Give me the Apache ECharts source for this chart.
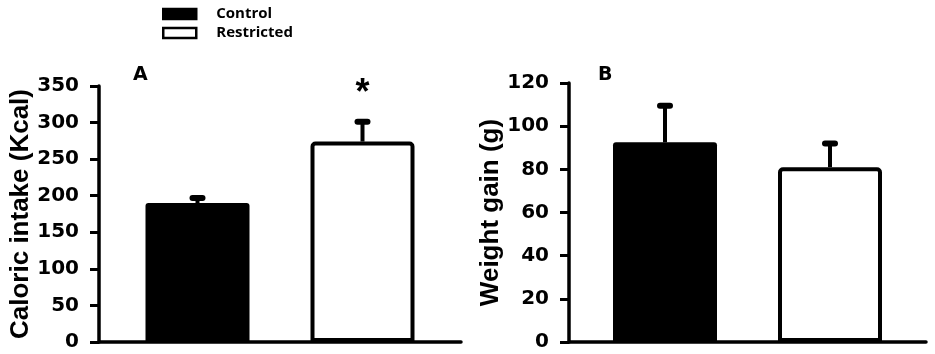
<!DOCTYPE html>
<html>
<head>
<meta charset="utf-8">
<script src="https://cdn.jsdelivr.net/npm/echarts@6/dist/echarts.min.js"></script>
<style>
html,body{margin:0;padding:0;background:#fff;}
#chart{width:935px;height:354px;}
</style>
</head>
<body>
<div id="chart"></div>
<script>
// ---- data ----
var groups = ['Control', 'Restricted'];
var caloricMean = [190, 274];
var caloricErr = [7, 27];
var caloricSig = ['', '*'];
var weightMean = [92.5, 81];
var weightErr = [17, 11];
var weightSig = ['', ''];
var panelLetters = ['A', 'B'];
var yTitles = ['Caloric intake (Kcal)', 'Weight gain (g)'];

// ---- style constants ----
var BAR_W = 104, BAR_GAP = 61;
var LINE_W = 3.5;

var chart = echarts.init(document.getElementById('chart'));

function errRenderer(means, errs, sigs) {
  return function (params, api) {
    var i = api.value(0);
    var dir = i === 0 ? -1 : 1;
    var cx = api.coord([0, 0])[0] + dir * (BAR_W + BAR_GAP) / 2;
    var y1 = api.coord([0, means[i]])[1];
    var y2 = api.coord([0, means[i] + errs[i]])[1];
    var children = [
      {type: 'line', shape: {x1: cx, y1: y1, x2: cx, y2: y2}, style: {stroke: '#000', lineWidth: 4}},
      {type: 'rect', shape: {x: cx - 8, y: y2 - 3, width: 16, height: 6, r: 3}, style: {fill: '#000'}}
    ];
    if (sigs[i]) {
      children.push({type: 'text', style: {text: sigs[i], x: cx, y: y2 - 28, align: 'center', verticalAlign: 'middle',
        font: 'bold 36px "Liberation Sans", Arial, sans-serif', fill: '#000'}});
    }
    return {type: 'group', children: children};
  };
}

function yAxis(gi, max, interval, name, gap) {
  return {
    type: 'value', gridIndex: gi, min: 0, max: max, interval: interval,
    name: name, nameLocation: 'middle', nameRotate: 90, nameGap: gap,
    nameTextStyle: {fontFamily: '"Liberation Sans", Arial, sans-serif', fontWeight: 'bold', fontSize: 26, color: '#000'},
    axisLine: {show: true, lineStyle: {color: '#000', width: LINE_W}},
    axisTick: {show: true, length: 9, lineStyle: {color: '#000', width: 3}},
    axisLabel: {color: '#000', fontFamily: '"DejaVu Sans", sans-serif', fontWeight: 'bold', fontSize: 20, margin: 20},
    splitLine: {show: false}
  };
}

function xAxis(gi) {
  return {
    type: 'category', gridIndex: gi, data: [''],
    axisLine: {show: true, lineStyle: {color: '#000', width: LINE_W}},
    axisTick: {show: false}, axisLabel: {show: false}
  };
}

function bars(gi, means) {
  return groups.map(function (g, i) {
    return {
      name: g, type: 'bar', xAxisIndex: gi, yAxisIndex: gi,
      data: [means[i]], barWidth: BAR_W, barGap: (BAR_GAP / BAR_W * 100) + '%',
      itemStyle: i === 0
        ? {color: '#000', borderRadius: [3, 3, 0, 0]}
        : {color: '#fff', borderColor: '#000', borderWidth: 4, borderRadius: [3, 3, 0, 0]},
      emphasis: {disabled: true}, z: 2
    };
  });
}

var option = {
  animation: false,
  backgroundColor: '#fff',
  legend: {
    data: groups, orient: 'vertical', left: 157, top: 1,
    itemWidth: 33, itemHeight: 10, itemGap: 3, icon: 'rect',
    textStyle: {fontFamily: '"Open Sans", sans-serif', fontWeight: 'bold', fontSize: 15, lineHeight: 16, color: '#000', padding: [0, 0, 0, 15]},
    itemStyle: {borderWidth: 2.5, borderColor: '#000'}
  },
  grid: [
    {left: 99, width: 362, top: 86, height: 256},
    {left: 569, width: 357, top: 83, height: 259}
  ],
  xAxis: [xAxis(0), xAxis(1)],
  yAxis: [yAxis(0, 350, 50, yTitles[0], 65), yAxis(1, 120, 20, yTitles[1], 42)],
  graphic: [
    {type: 'text', left: 133, top: 66, style: {text: panelLetters[0], font: 'bold 19px "DejaVu Sans", sans-serif', fill: '#000'}},
    {type: 'text', left: 598, top: 66, style: {text: panelLetters[1], font: 'bold 19px "DejaVu Sans", sans-serif', fill: '#000'}}
  ],
  series: bars(0, caloricMean).concat(bars(1, weightMean)).concat([
    {type: 'custom', name: 'errA', xAxisIndex: 0, yAxisIndex: 0, data: [[0], [1]],
      renderItem: errRenderer(caloricMean, caloricErr, caloricSig), z: 5, silent: true},
    {type: 'custom', name: 'errB', xAxisIndex: 1, yAxisIndex: 1, data: [[0], [1]],
      renderItem: errRenderer(weightMean, weightErr, weightSig), z: 5, silent: true}
  ])
};
chart.setOption(option);
</script>
</body>
</html>
